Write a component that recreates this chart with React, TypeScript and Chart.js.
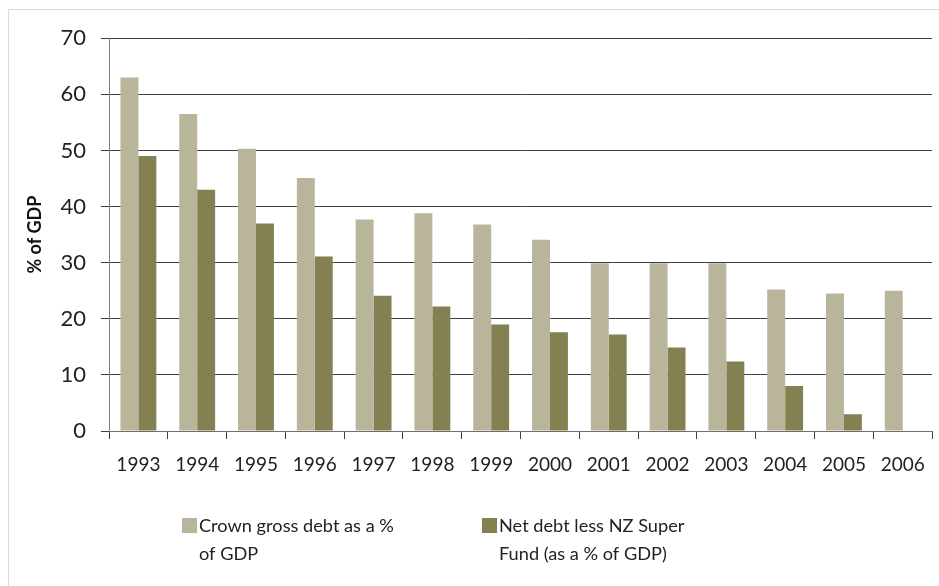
import React, { useEffect, useRef } from "react";
import { Chart, registerables } from "chart.js";

Chart.register(...registerables);

const years = ["1993", "1994", "1995", "1996", "1997", "1998", "1999", "2000", "2001", "2002", "2003", "2004", "2005", "2006"];
const grossDebt = [63, 56.5, 50.3, 45.1, 37.7, 38.8, 36.8, 34.1, 29.9, 29.9, 29.9, 25.2, 24.5, 25.0];
const netDebt = [49, 43, 37, 31.1, 24.1, 22.2, 19, 17.6, 17.2, 14.9, 12.4, 8, 3, null];
const grossLabel = ["Crown gross debt as a %", "of GDP"];
const netLabel = ["Net debt less NZ Super", "Fund (as a % of GDP)"];
const yTitle = "% of GDP";

const LIGHT = "#B9B59B";
const DARK = "#838052";
const FONT = "Lato, 'Open Sans', sans-serif";

const legendPlugin = {
  id: "customLegend",
  afterDraw(chart: any) {
    const ctx = chart.ctx;
    const items = [
      { lines: grossLabel, color: LIGHT, x: 173 },
      { lines: netLabel, color: DARK, x: 473 },
    ];
    ctx.save();
    ctx.font = `18.2px ${FONT}`;
    ctx.textBaseline = "alphabetic";
    ctx.textAlign = "left";
    items.forEach((it) => {
      ctx.fillStyle = it.color;
      ctx.fillRect(it.x, 508, 15, 15);
      ctx.fillStyle = "#222";
      it.lines.forEach((ln, i) => {
        ctx.fillText(ln, it.x + 17, 522 + i * 28);
      });
    });
    ctx.restore();
  },
};

export default function App() {
  const ref = useRef<HTMLCanvasElement>(null);
  useEffect(() => {
    if (!ref.current) return;
    const chart = new Chart(ref.current, {
      type: "bar",
      data: {
        labels: years,
        datasets: [
          {
            label: grossLabel.join(" "),
            data: grossDebt,
            backgroundColor: LIGHT,
            borderWidth: 0,
            categoryPercentage: 0.61,
            barPercentage: 1.0,
          },
          {
            label: netLabel.join(" "),
            data: netDebt as any,
            backgroundColor: DARK,
            borderWidth: 0,
            categoryPercentage: 0.61,
            barPercentage: 1.0,
          },
        ],
      },
      options: {
        animation: false,
        responsive: false,
        maintainAspectRatio: false,
        layout: { padding: { left: 0, right: 6, top: 27, bottom: 0 } },
        plugins: {
          legend: { display: false },
          tooltip: { enabled: false },
        },
        scales: {
          x: {
            grid: {
              offset: true,
              drawOnChartArea: false,
              drawTicks: true,
              tickLength: 8,
              color: "#404040",
            },
            border: { color: "#707070", width: 1 },
            ticks: {
              color: "#222",
              font: { family: FONT, size: 19 },
              padding: 14,
              maxRotation: 0,
            },
            afterFit(scale: any) {
              scale.height = 155;
            },
          },
          y: {
            min: 0,
            max: 70,
            ticks: {
              stepSize: 10,
              color: "#222",
              font: { family: FONT, size: 22 },
              padding: 15,
            },
            grid: {
              color: "#404040",
              tickLength: 8,
              drawTicks: true,
            },
            border: { color: "#808080", width: 1 },
            title: {
              display: true,
              text: yTitle,
              color: "#111",
              font: { family: FONT, size: 18, weight: "bold" },
              padding: { top: 15, bottom: 0 },
            },
            afterFit(scale: any) {
              scale.width = 100;
            },
          },
        },
      },
      plugins: [legendPlugin],
    });
    return () => chart.destroy();
  }, []);

  return (
    <div
      style={{
        position: "absolute",
        left: 8,
        top: 9,
        width: 940,
        height: 590,
        borderLeft: "1px solid #d9d9d9",
        borderTop: "1px solid #d9d9d9",
        background: "#fff",
      }}
    >
      <canvas ref={ref} width={930} height={576} style={{ display: "block" }} />
    </div>
  );
}
